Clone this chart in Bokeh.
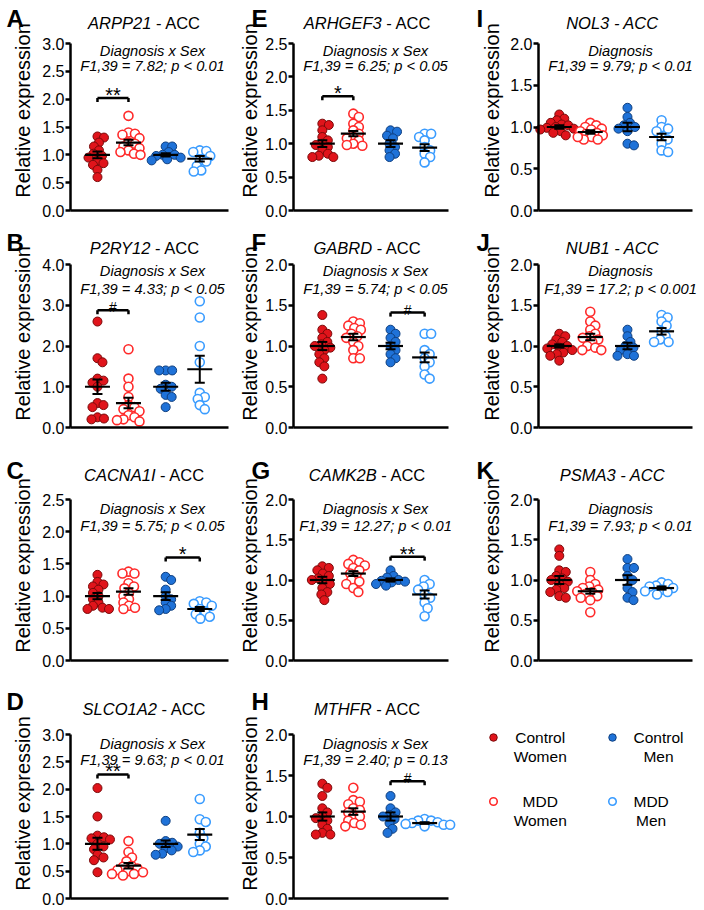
import math
from bokeh.plotting import figure
from bokeh.layouts import column, row
from bokeh.models import Range1d, FixedTicker, PrintfTickFormatter, LinearAxis
from bokeh.core.properties import value
from bokeh.embed import file_html
from bokeh.resources import INLINE

FONT = "Liberation Sans"

# ---------------- data ----------------
panel_letters = ["A", "B", "C", "D", "E", "F", "G", "H", "I", "J", "K"]
genes = ["ARPP21", "P2RY12", "CACNA1I", "SLCO1A2", "ARHGEF3", "GABRD",
         "CAMK2B", "MTHFR", "NOL3", "NUB1", "PSMA3"]
region = "- ACC"
suffix_italic = [False] * 8 + [True] * 3
effects = ["Diagnosis x Sex"] * 8 + ["Diagnosis"] * 3
stats = ["F1,39 = 7.82; p < 0.01", "F1,39 = 4.33; p < 0.05", "F1,39 = 5.75; p < 0.05",
         "F1,39 = 9.63; p < 0.01", "F1,39 = 6.25; p < 0.05", "F1,39 = 5.74; p < 0.05",
         "F1,39 = 12.27; p < 0.01", "F1,39 = 2.40; p = 0.13", "F1,39 = 9.79; p < 0.01",
         "F1,39 = 17.2; p < 0.001", "F1,39 = 7.93; p < 0.01"]
y_label = "Relative expression"
y_ticks = [
    [0.0, 0.5, 1.0, 1.5, 2.0, 2.5, 3.0],
    [0.0, 1.0, 2.0, 3.0, 4.0],
    [0.0, 0.5, 1.0, 1.5, 2.0, 2.5],
    [0.0, 0.5, 1.0, 1.5, 2.0, 2.5, 3.0],
    [0.0, 0.5, 1.0, 1.5, 2.0, 2.5],
    [0.0, 0.5, 1.0, 1.5, 2.0],
    [0.0, 0.5, 1.0, 1.5, 2.0],
    [0.0, 0.5, 1.0, 1.5, 2.0],
    [0.0, 0.5, 1.0, 1.5, 2.0],
    [0.0, 0.5, 1.0, 1.5, 2.0],
    [0.0, 0.5, 1.0, 1.5, 2.0],
]
groups = ["Control Women", "MDD Women", "Control Men", "MDD Men"]

control_women = {
    "ARPP21": [1.33, 1.31, 1.22, 1.15, 1.08, 1.02, 0.98, 0.95, 0.90, 0.85, 0.82, 0.73, 0.60],
    "P2RY12": [2.60, 1.70, 1.60, 1.20, 1.15, 1.10, 1.00, 0.60, 0.55, 0.50, 0.25, 0.22, 0.20],
    "CACNA1I": [1.33, 1.22, 1.18, 1.15, 1.10, 1.05, 1.00, 0.95, 0.90, 0.85, 0.82, 0.80, 0.80],
    "SLCO1A2": [2.02, 1.50, 1.15, 1.12, 1.10, 1.08, 1.00, 0.95, 0.90, 0.80, 0.75, 0.70, 0.48],
    "ARHGEF3": [1.30, 1.28, 1.20, 1.10, 1.05, 1.00, 0.98, 0.95, 0.90, 0.85, 0.82, 0.80, 0.80],
    "GABRD": [1.38, 1.20, 1.15, 1.10, 1.05, 1.02, 1.00, 0.98, 0.95, 0.90, 0.85, 0.80, 0.75, 0.60],
    "CAMK2B": [1.17, 1.15, 1.12, 1.08, 1.05, 1.02, 1.00, 0.98, 0.95, 0.90, 0.85, 0.82, 0.75],
    "MTHFR": [1.40, 1.35, 1.25, 1.10, 1.05, 1.00, 0.98, 0.95, 0.90, 0.85, 0.80, 0.78, 0.78],
    "NOL3": [1.15, 1.10, 1.08, 1.05, 1.03, 1.02, 1.00, 0.99, 0.98, 0.97, 0.95, 0.93, 0.90],
    "NUB1": [1.15, 1.12, 1.08, 1.05, 1.02, 1.00, 0.98, 0.97, 0.95, 0.92, 0.90, 0.88, 0.82],
    "PSMA3": [1.38, 1.30, 1.12, 1.10, 1.05, 1.02, 1.00, 0.98, 0.95, 0.90, 0.88, 0.85, 0.80, 0.78],
}
mdd_women = {
    "ARPP21": [1.70, 1.40, 1.38, 1.36, 1.30, 1.22, 1.20, 1.15, 1.12, 1.08, 1.05, 1.02, 1.00],
    "P2RY12": [1.92, 1.20, 1.00, 0.75, 0.55, 0.50, 0.45, 0.40, 0.30, 0.25, 0.20, 0.18, 0.15],
    "CACNA1I": [1.38, 1.35, 1.35, 1.20, 1.15, 1.12, 1.05, 1.00, 0.95, 0.90, 0.85, 0.82, 0.80],
    "SLCO1A2": [1.05, 0.85, 0.75, 0.68, 0.60, 0.58, 0.55, 0.52, 0.50, 0.48, 0.45, 0.42, 0.45],
    "ARHGEF3": [1.45, 1.40, 1.30, 1.25, 1.20, 1.15, 1.10, 1.08, 1.05, 1.00, 0.98, 0.97],
    "GABRD": [1.30, 1.28, 1.25, 1.22, 1.20, 1.15, 1.12, 1.10, 1.05, 1.00, 0.95, 0.85, 0.85],
    "CAMK2B": [1.25, 1.22, 1.20, 1.18, 1.15, 1.12, 1.08, 1.05, 1.00, 0.98, 0.95, 0.90, 0.85],
    "MTHFR": [1.35, 1.20, 1.18, 1.15, 1.10, 1.08, 1.05, 1.00, 1.00, 0.95, 0.92, 0.90, 0.88],
    "NOL3": [1.05, 1.02, 1.00, 0.98, 0.97, 0.95, 0.93, 0.92, 0.90, 0.88, 0.85, 0.85, 0.88],
    "NUB1": [1.42, 1.30, 1.25, 1.20, 1.15, 1.12, 1.10, 1.08, 1.05, 1.00, 0.98, 0.95, 0.95],
    "PSMA3": [1.10, 1.00, 0.95, 0.92, 0.90, 0.88, 0.86, 0.85, 0.83, 0.80, 0.78, 0.75, 0.60],
}
control_men = {
    "ARPP21": [1.15, 1.15, 1.05, 1.00, 1.00, 0.98, 0.95, 0.92, 0.90],
    "P2RY12": [1.40, 1.40, 1.40, 1.05, 1.00, 0.95, 0.80, 0.75, 0.50],
    "CACNA1I": [1.30, 1.25, 1.10, 1.00, 0.95, 0.90, 0.85, 0.80, 0.78],
    "SLCO1A2": [1.42, 1.05, 1.02, 1.00, 0.95, 0.92, 0.88, 0.82, 0.80],
    "ARHGEF3": [1.20, 1.18, 1.12, 1.08, 1.00, 0.95, 0.90, 0.85, 0.80],
    "GABRD": [1.20, 1.15, 1.10, 1.05, 1.00, 0.95, 0.90, 0.85, 0.80],
    "CAMK2B": [1.12, 1.05, 1.03, 1.00, 0.99, 0.98, 0.97, 0.95, 0.93],
    "MTHFR": [1.25, 1.10, 1.05, 1.02, 1.00, 0.97, 0.92, 0.85, 0.80],
    "NOL3": [1.23, 1.12, 1.05, 1.02, 1.00, 0.98, 0.95, 0.80, 0.78],
    "NUB1": [1.20, 1.12, 1.05, 1.00, 0.98, 0.95, 0.90, 0.88, 0.88],
    "PSMA3": [1.26, 1.15, 1.15, 1.05, 1.00, 0.90, 0.85, 0.78, 0.75],
}
mdd_men = {
    "ARPP21": [1.08, 1.07, 1.05, 0.98, 0.90, 0.88, 0.80, 0.72, 0.70],
    "P2RY12": [3.10, 2.70, 2.00, 1.60, 0.85, 0.75, 0.70, 0.55, 0.45],
    "CACNA1I": [0.92, 0.90, 0.88, 0.85, 0.80, 0.75, 0.72, 0.68, 0.65],
    "SLCO1A2": [1.82, 1.45, 1.40, 1.20, 1.10, 1.00, 0.95, 0.88, 0.85],
    "ARHGEF3": [1.15, 1.15, 1.10, 1.05, 0.95, 0.90, 0.85, 0.80, 0.72],
    "GABRD": [1.15, 1.15, 0.95, 0.90, 0.85, 0.80, 0.75, 0.65, 0.60],
    "CAMK2B": [1.00, 0.95, 0.92, 0.88, 0.82, 0.78, 0.72, 0.65, 0.55],
    "MTHFR": [0.97, 0.95, 0.95, 0.93, 0.92, 0.91, 0.90, 0.90, 0.88],
    "NOL3": [1.08, 1.00, 0.98, 0.95, 0.88, 0.85, 0.80, 0.72, 0.70],
    "NUB1": [1.38, 1.35, 1.30, 1.25, 1.18, 1.12, 1.08, 1.05, 1.05],
    "PSMA3": [0.97, 0.95, 0.93, 0.92, 0.90, 0.88, 0.86, 0.85, 0.82],
}
group_means = {
    "ARPP21": [1.00, 1.22, 1.00, 0.93], "P2RY12": [1.00, 0.60, 1.00, 1.43],
    "CACNA1I": [1.00, 1.07, 1.00, 0.80], "SLCO1A2": [1.00, 0.60, 1.00, 1.17],
    "ARHGEF3": [1.00, 1.15, 1.00, 0.94], "GABRD": [1.00, 1.11, 1.00, 0.86],
    "CAMK2B": [1.00, 1.08, 1.00, 0.82], "MTHFR": [1.00, 1.06, 1.00, 0.92],
    "NOL3": [1.00, 0.94, 1.00, 0.88], "NUB1": [1.00, 1.11, 1.00, 1.18],
    "PSMA3": [1.00, 0.86, 1.00, 0.90],
}
group_sems = {
    "ARPP21": [0.06, 0.05, 0.03, 0.05], "P2RY12": [0.18, 0.13, 0.10, 0.33],
    "CACNA1I": [0.05, 0.05, 0.06, 0.03], "SLCO1A2": [0.11, 0.05, 0.06, 0.10],
    "ARHGEF3": [0.05, 0.04, 0.05, 0.05], "GABRD": [0.05, 0.04, 0.04, 0.06],
    "CAMK2B": [0.04, 0.03, 0.02, 0.05], "MTHFR": [0.05, 0.04, 0.05, 0.01],
    "NOL3": [0.02, 0.02, 0.05, 0.04], "NUB1": [0.02, 0.04, 0.04, 0.04],
    "PSMA3": [0.05, 0.03, 0.06, 0.02],
}
sig_genes = ["ARPP21", "P2RY12", "CACNA1I", "SLCO1A2", "ARHGEF3", "GABRD", "CAMK2B", "MTHFR"]
sig_left = [0, 0, 2, 0, 0, 2, 2, 2]
sig_right = [1, 1, 3, 1, 1, 3, 3, 3]
sig_y = [2.02, 2.88, 1.60, 2.27, 1.71, 1.41, 1.29, 1.43]
sig_mark = ["**", "#", "*", "**", "*", "#", "**", "#"]

# ---------------- styling / layout (pixels within each cell) ----------------
FILL = ["#e0141b", "white", "#1f72d8", "white"]
EDGE = ["#7a0a0a", "#ff2a2a", "#0f3f7f", "#3a9cff"]
EDGE_W = [1.0, 1.6, 1.0, 1.6]
GROUP_X = [1.0, 2.0, 3.2, 4.3]
PPX = 31.0

COL_W = [235, 235, 233]
AXIS_PX = [70, 58, 68]          # y-axis position in the cell
AXIS_XD = [0.13, 0.07, 0.33]    # data x at the y-axis
XLEN = [158, 155, 154]          # x-axis length in px
LETTER_PX = [6, 16, 6]
YLAB_PX = [22, 14, 21]

ROW_H = [225, 225, 225, 234]
ZERO_PX = [210, 202, 210, 223]  # y = 0 position from the cell top
AXIS_H = [167, 163, 161, 164]
LETTER_Y = [18, 17, 20, 26]
TITLE_Y = [22, 22, 24, 33]
ANN1_Y = [50, 45, 58, 68]
ANN2_Y = [65, 63, 75, 84]
YLAB_Y = [110, 108, 115, 128]
TITLE_CX = 74
ANN_CX = 82
TITLE_PX = 16.5

CHAR_W = {c: 0.556 for c in "0123456789"}
CHAR_W.update({"A": .667, "B": .667, "C": .722, "D": .722, "E": .667, "F": .611, "G": .778,
               "H": .722, "I": .278, "J": .5, "K": .667, "L": .556, "M": .833, "N": .722,
               "O": .778, "P": .667, "Q": .778, "R": .722, "S": .667, "T": .611, "U": .722,
               "V": .667, "W": .944, "X": .667, "Y": .667, "Z": .611, " ": .278, "-": .333,
               "a": .556, "b": .556, "c": .5, "d": .556, "e": .556, "f": .278, "g": .556,
               "h": .556, "i": .222, "j": .222, "k": .5, "l": .222, "m": .833, "n": .556,
               "o": .556, "p": .556, "q": .556, "r": .333, "s": .5, "t": .278, "u": .556,
               "v": .5, "w": .722, "x": .5, "y": .5, "z": .5})


def text_w(s, px):
    return sum(CHAR_W.get(c, 0.556) for c in s) * px


def swarm_offsets(vals, ppy, diam):
    order = sorted(range(len(vals)), key=lambda k: -vals[k])
    placed = []
    off = [0.0] * len(vals)
    cands = [0.0]
    for j in range(1, 80):
        cands += [j * 0.5, -j * 0.5]
    for k in order:
        yk = vals[k] * ppy
        for c in cands:
            if all((c - px) ** 2 + (yk - py) ** 2 >= (diam * 0.7) ** 2 for px, py in placed):
                off[k] = c
                placed.append((c, yk))
                break
    return off


def make_panel(i):
    col, rw = divmod(i, 4)
    gene = genes[i]
    ticks = y_ticks[i]
    ymax = ticks[-1]
    ppy = AXIS_H[rw] / ymax
    xd = AXIS_XD[col]
    xs0 = xd - AXIS_PX[col] / PPX
    xs1 = xs0 + COL_W[col] / PPX
    ys1 = ZERO_PX[rw] / ppy
    ys0 = -(ROW_H[rw] - ZERO_PX[rw]) / ppy

    def px_x(px):
        return xs0 + px / PPX

    def px_y(py):
        return (ZERO_PX[rw] - py) / ppy

    p = figure(width=COL_W[col], height=ROW_H[rw],
               x_range=Range1d(xs0, xs1), y_range=Range1d(ys0, ys1),
               x_axis_location=None, y_axis_location=None,
               output_backend="svg", toolbar_location=None, min_border=0,
               outline_line_color=None, background_fill_color="white",
               border_fill_color="white")
    p.grid.visible = False

    ya = LinearAxis(fixed_location=xd, ticker=FixedTicker(ticks=ticks),
                    formatter=PrintfTickFormatter(format="%.1f"), bounds=(0, ymax))
    ya.major_label_text_font = FONT
    ya.major_label_text_font_size = "16px"
    ya.major_label_text_color = "black"
    ya.major_label_standoff = 1
    ya.axis_line_width = 2.5
    ya.major_tick_line_width = 2.5
    ya.major_tick_out = 5
    ya.major_tick_in = 0
    ya.minor_tick_out = 0
    ya.minor_tick_in = 0
    p.add_layout(ya, "left")

    xa = LinearAxis(fixed_location=0, ticker=FixedTicker(ticks=[]),
                    bounds=(xd, xd + XLEN[col] / PPX))
    xa.major_label_text_font_size = "0px"
    xa.major_tick_out = 0
    xa.major_tick_in = 0
    xa.minor_tick_out = 0
    xa.minor_tick_in = 0
    xa.axis_line_width = 2.5
    p.add_layout(xa, "below")

    # y-axis title
    p.text(x=[px_x(YLAB_PX[col])], y=[px_y(YLAB_Y[rw])], text=[y_label], angle=math.pi / 2,
           text_font=value(FONT), text_font_size="20px", text_align="center",
           text_baseline="middle", text_color="black")

    series = [control_women[gene], mdd_women[gene], control_men[gene], mdd_men[gene]]
    for g, vals in enumerate(series):
        off = swarm_offsets(vals, ppy, 9.0)
        xs = [GROUP_X[g] + o / PPX for o in off]
        p.scatter(xs, vals, marker="circle", size=9, fill_color=FILL[g],
                  line_color=EDGE[g], line_width=EDGE_W[g])

    m = group_means[gene]
    s = group_sems[gene]
    hw = 12.5 / PPX
    cw = 5.0 / PPX
    p.segment(x0=[gx - hw for gx in GROUP_X], x1=[gx + hw for gx in GROUP_X],
              y0=m, y1=m, line_color="black", line_width=2.2)
    p.segment(x0=GROUP_X, x1=GROUP_X, y0=[a - b for a, b in zip(m, s)],
              y1=[a + b for a, b in zip(m, s)], line_color="black", line_width=2)
    for sign in (-1, 1):
        yy = [a + sign * b for a, b in zip(m, s)]
        p.segment(x0=[gx - cw for gx in GROUP_X], x1=[gx + cw for gx in GROUP_X],
                  y0=yy, y1=yy, line_color="black", line_width=2)

    if gene in sig_genes:
        k = sig_genes.index(gene)
        xa_ = GROUP_X[sig_left[k]]
        xb_ = GROUP_X[sig_right[k]]
        yb = sig_y[k]
        tick = 4.0 / ppy
        p.segment(x0=[xa_, xa_, xb_], x1=[xb_, xa_, xb_], y0=[yb, yb, yb],
                  y1=[yb, yb - tick, yb - tick], line_color="black", line_width=2.5)
        mark = sig_mark[k]
        if "*" in mark:
            fs, dy = "20px", 3.0
        else:
            fs, dy = "14px", 3.0
        p.text(x=[(xa_ + xb_) / 2], y=[yb + dy / ppy], text=[mark],
               text_font=value(FONT), text_font_size=fs, text_align="center",
               text_baseline="alphabetic", text_color="black")

    # title: italic gene + region
    total = text_w(gene, TITLE_PX) + text_w(" " + region, TITLE_PX)
    left_px = AXIS_PX[col] + TITLE_CX - total / 2
    split_px = left_px + text_w(gene, TITLE_PX)
    ty = px_y(TITLE_Y[rw])
    p.text(x=[px_x(split_px)], y=[ty], text=[gene], text_font=value(FONT),
           text_font_size=f"{TITLE_PX}px", text_font_style="italic",
           text_align="right", text_baseline="middle", text_color="black")
    p.text(x=[px_x(split_px + text_w(" ", TITLE_PX))], y=[ty], text=[region],
           text_font=value(FONT), text_font_size=f"{TITLE_PX}px",
           text_font_style="italic" if suffix_italic[i] else "normal",
           text_align="left", text_baseline="middle", text_color="black")

    # statistics annotation
    ax_ = px_x(AXIS_PX[col] + ANN_CX)
    p.text(x=[ax_, ax_], y=[px_y(ANN1_Y[rw]), px_y(ANN2_Y[rw])],
           text=[effects[i], stats[i]], text_font=value(FONT), text_font_size="14.7px",
           text_font_style="italic", text_align="center", text_baseline="middle",
           text_color="black")

    # panel letter
    p.text(x=[px_x(LETTER_PX[col])], y=[px_y(LETTER_Y[rw])], text=[panel_letters[i]],
           text_font=value(FONT), text_font_size="24px", text_font_style="bold",
           text_align="left", text_baseline="middle", text_color="black")
    return p


def make_legend():
    w, h = COL_W[2], ROW_H[3]
    p = figure(width=w, height=h, x_range=Range1d(0, w), y_range=Range1d(h, 0),
               x_axis_location=None, y_axis_location=None,
               output_backend="svg", toolbar_location=None, min_border=0,
               outline_line_color=None, background_fill_color="white",
               border_fill_color="white")
    p.grid.visible = False
    marker_x = [23, 142]
    block_left = [43, 163]
    row_y = [62, 126]
    line_gap = 19
    for g, name in enumerate(groups):
        words = name.split(" ")
        c = 0 if "Women" in name else 1
        r = 0 if name.startswith("Control") else 1
        p.scatter([marker_x[c]], [row_y[r]], marker="circle", size=7.5,
                  fill_color=FILL[g], line_color=EDGE[g], line_width=EDGE_W[g])
        lines = [words[0], words[1]]
        widest = max(text_w(t, 15.5) for t in lines)
        cx = block_left[c] + widest / 2
        p.text(x=[cx, cx], y=[row_y[r], row_y[r] + line_gap], text=lines,
               text_font=value(FONT), text_font_size="15.5px", text_align="center",
               text_baseline="middle", text_color="black")
    return p


panels = [make_panel(i) for i in range(len(genes))]
legend_fig = make_legend()
rows = []
for r in range(4):
    third = panels[8 + r] if 8 + r < len(panels) else legend_fig
    rows.append(row(panels[r], panels[4 + r], third))
layout = column(*rows)

open("out.html", "w").write(file_html(layout, INLINE))
